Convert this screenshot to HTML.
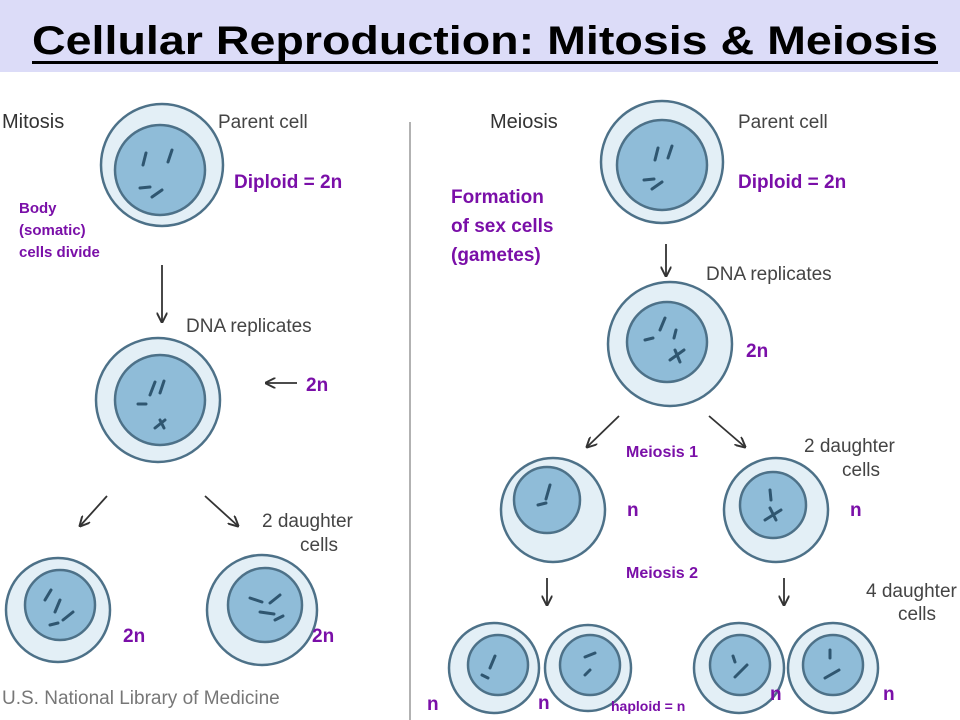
<!DOCTYPE html>
<html><head><meta charset="utf-8"><style>
html,body{margin:0;padding:0;background:#fff;}
svg{display:block}
.g{font-family:"Liberation Sans",sans-serif;fill:#444;font-size:19px}
.p{font-family:"Liberation Sans",sans-serif;fill:#7a0fa8;font-weight:bold}
</style></head><body>
<svg width="960" height="720" viewBox="0 0 960 720" xmlns="http://www.w3.org/2000/svg">
<defs>
<marker id="ah" viewBox="0 0 10 10" refX="9" refY="5" markerWidth="6" markerHeight="6" orient="auto"><path d="M0,0 L10,5 L0,10" fill="none" stroke="#333" stroke-width="1.8"/></marker>
</defs>
<rect x="0" y="0" width="960" height="72" fill="#dcdcf8"/>
<text x="32" y="54" font-family="'Liberation Sans',sans-serif" font-weight="bold" font-size="40" textLength="906" lengthAdjust="spacingAndGlyphs" fill="#000">Cellular Reproduction: Mitosis &amp; Meiosis</text>
<rect x="32" y="61" width="906" height="3" fill="#000"/>
<line x1="410" y1="122" x2="410" y2="720" stroke="#999" stroke-width="1.5"/>

<text class="g" x="2" y="128" style="font-size:20px;fill:#333">Mitosis</text>
<text class="g" x="218" y="128">Parent cell</text>
<text class="g" x="186" y="332">DNA replicates</text>
<text class="g" x="262" y="527">2 daughter</text>
<text class="g" x="300" y="551">cells</text>
<text class="g" x="490" y="128" style="font-size:20px;fill:#333">Meiosis</text>
<text class="g" x="738" y="128">Parent cell</text>
<text class="g" x="706" y="280">DNA replicates</text>
<text class="g" x="804" y="452">2 daughter</text>
<text class="g" x="842" y="476">cells</text>
<text class="g" x="866" y="597">4 daughter</text>
<text class="g" x="898" y="620">cells</text>
<text class="g" x="2" y="704" font-size="17" style="fill:#777">U.S. National Library of Medicine</text>

<g fill="#d4e6f0" stroke="#4d7188" stroke-width="2.5">
<circle cx="162" cy="165" r="61" fill="#e3eff6"/><circle cx="160" cy="170" r="45" fill="#8fbcd8"/>
<circle cx="158" cy="400" r="62" fill="#e3eff6"/><circle cx="160" cy="400" r="45" fill="#8fbcd8"/>
<circle cx="58" cy="610" r="52" fill="#e3eff6"/><circle cx="60" cy="605" r="35" fill="#8fbcd8"/>
<circle cx="262" cy="610" r="55" fill="#e3eff6"/><circle cx="265" cy="605" r="37" fill="#8fbcd8"/>
<circle cx="662" cy="162" r="61" fill="#e3eff6"/><circle cx="662" cy="165" r="45" fill="#8fbcd8"/>
<circle cx="670" cy="344" r="62" fill="#e3eff6"/><circle cx="667" cy="342" r="40" fill="#8fbcd8"/>
<circle cx="553" cy="510" r="52" fill="#e3eff6"/><circle cx="547" cy="500" r="33" fill="#8fbcd8"/>
<circle cx="776" cy="510" r="52" fill="#e3eff6"/><circle cx="773" cy="505" r="33" fill="#8fbcd8"/>
<circle cx="494" cy="668" r="45" fill="#e3eff6"/><circle cx="498" cy="665" r="30" fill="#8fbcd8"/>
<circle cx="588" cy="668" r="43" fill="#e3eff6"/><circle cx="590" cy="665" r="30" fill="#8fbcd8"/>
<circle cx="739" cy="668" r="45" fill="#e3eff6"/><circle cx="740" cy="665" r="30" fill="#8fbcd8"/>
<circle cx="833" cy="668" r="45" fill="#e3eff6"/><circle cx="833" cy="665" r="30" fill="#8fbcd8"/>
</g>
<g stroke="#2f5670" stroke-width="3" stroke-linecap="round" fill="none">
<path d="M143,165 l3,-12 M168,162 l4,-12 M140,188 l10,-1 M152,197 l10,-7"/>
<path d="M150,395 l5,-13 M160,393 l4,-12 M138,404 l8,0 M155,428 l10,-8 M160,420 l4,8"/>
<path d="M45,600 l6,-10 M55,612 l5,-12 M63,620 l10,-8 M50,625 l8,-2"/>
<path d="M250,598 l12,4 M260,612 l14,2 M270,603 l10,-8 M275,620 l8,-4"/>
<path d="M655,160 l3,-12 M668,158 l4,-12 M644,180 l10,-1 M652,189 l10,-7"/>
<path d="M660,330 l5,-12 M674,338 l2,-8 M645,340 l8,-2 M670,360 l14,-10 M675,350 l5,12"/>
<path d="M550,485 l-4,14 M538,505 l8,-2"/>
<path d="M770,490 l1,10 M765,520 l16,-10 M770,508 l6,12"/>
<path d="M490,668 l5,-12 M482,675 l6,3"/>
<path d="M585,657 l10,-4 M585,675 l5,-5"/>
<path d="M733,656 l2,6 M735,677 l12,-12"/>
<path d="M830,650 l0,8 M825,678 l14,-8"/>
</g>
<g stroke="#333" stroke-width="1.8" marker-end="url(#ah)">
<line x1="162" y1="265" x2="162" y2="322"/>
<line x1="297" y1="383" x2="266" y2="383"/>
<line x1="107" y1="496" x2="80" y2="526"/>
<line x1="205" y1="496" x2="238" y2="526"/>
<line x1="666" y1="244" x2="666" y2="276"/>
<line x1="619" y1="416" x2="587" y2="447"/>
<line x1="709" y1="416" x2="745" y2="447"/>
<line x1="547" y1="578" x2="547" y2="605"/>
<line x1="784" y1="578" x2="784" y2="605"/>
</g>

<text class="p" x="234" y="188" font-size="19">Diploid = 2n</text>
<text class="p" x="19" y="213" font-size="15">Body</text>
<text class="p" x="19" y="235" font-size="15">(somatic)</text>
<text class="p" x="19" y="257" font-size="15">cells divide</text>
<text class="p" x="306" y="391" font-size="19">2n</text>
<text class="p" x="123" y="642" font-size="19">2n</text>
<text class="p" x="312" y="642" font-size="19">2n</text>
<text class="p" x="451" y="203" font-size="19">Formation</text>
<text class="p" x="451" y="232" font-size="19">of sex cells</text>
<text class="p" x="451" y="261" font-size="19">(gametes)</text>
<text class="p" x="738" y="188" font-size="19">Diploid = 2n</text>
<text class="p" x="746" y="357" font-size="19">2n</text>
<text class="p" x="626" y="457" font-size="16">Meiosis 1</text>
<text class="p" x="627" y="516" font-size="19">n</text>
<text class="p" x="850" y="516" font-size="19">n</text>
<text class="p" x="626" y="578" font-size="16">Meiosis 2</text>
<text class="p" x="427" y="710" font-size="19">n</text>
<text class="p" x="538" y="709" font-size="19">n</text>
<text class="p" x="611" y="711" font-size="14">haploid = n</text>
<text class="p" x="770" y="700" font-size="19">n</text>
<text class="p" x="883" y="700" font-size="19">n</text>
</svg>
</body></html>
